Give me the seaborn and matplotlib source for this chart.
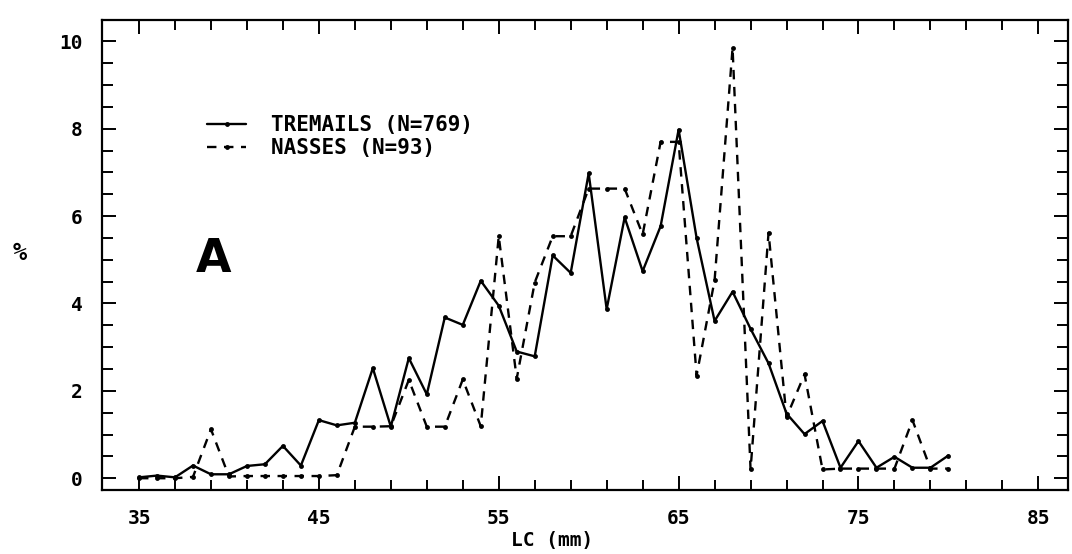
import matplotlib
matplotlib.use("Agg")
import matplotlib.pyplot as plt
from matplotlib.ticker import FixedLocator, MultipleLocator
import seaborn as sns
import pandas as pd

# ---- data ----
lc_mm = [35, 36, 37, 38, 39, 40, 41, 42, 43, 44, 45, 46, 47, 48, 49, 50,
         51, 52, 53, 54, 55, 56, 57, 58, 59, 60, 61, 62, 63, 64, 65, 66,
         67, 68, 69, 70, 71, 72, 73, 74, 75, 76, 77, 78, 79, 80]

tremails = [0.02, 0.06, 0.02, 0.29, 0.09, 0.09, 0.28, 0.32, 0.74, 0.29,
            1.33, 1.21, 1.27, 2.52, 1.18, 2.75, 1.92, 3.68, 3.51, 4.52,
            3.95, 2.90, 2.79, 5.10, 4.70, 6.98, 3.87, 5.97, 4.74, 5.77,
            7.98, 5.50, 3.60, 4.27, 3.42, 2.63, 1.48, 1.01, 1.31, 0.24,
            0.85, 0.24, 0.49, 0.24, 0.24, 0.52]

nasses = [0.00, 0.00, 0.00, 0.03, 1.12, 0.04, 0.05, 0.05, 0.05, 0.05,
          0.05, 0.07, 1.18, 1.18, 1.19, 2.25, 1.18, 1.18, 2.26, 1.19,
          5.54, 2.28, 4.48, 5.54, 5.54, 6.63, 6.63, 6.63, 5.58, 7.70,
          7.70, 2.35, 4.53, 9.85, 0.20, 5.62, 1.40, 2.38, 0.20, 0.22,
          0.22, 0.22, 0.22, 1.33, 0.22, 0.22]

label_tremails = "TREMAILS (N=769)"
label_nasses = "NASSES (N=93)"
x_ticks = [35, 45, 55, 65, 75, 85]
y_ticks = [0, 2, 4, 6, 8, 10]

df = pd.DataFrame({"LC": lc_mm + lc_mm,
                   "pct": tremails + nasses,
                   "serie": [label_tremails] * len(lc_mm) + [label_nasses] * len(lc_mm)})

sns.set_style("white")
plt.rcParams["font.family"] = ["DejaVu Sans Mono", "DejaVu Sans"]
plt.rcParams["font.weight"] = "bold"
for key in ["text.color", "axes.labelcolor", "xtick.color", "ytick.color",
            "axes.edgecolor"]:
    plt.rcParams[key] = "black"

fig = plt.figure(figsize=(10.72, 5.54), dpi=100)
ax = fig.add_axes([0.0951, 0.1155, 0.9012, 0.8484])

sns.lineplot(data=df, x="LC", y="pct", style="serie",
             style_order=[label_tremails, label_nasses],
             dashes={label_tremails: "", label_nasses: (4, 3.2)},
             markers={label_tremails: "o", label_nasses: "o"},
             markersize=3.5, markeredgewidth=0,
             color="black", linewidth=1.7, ax=ax, legend=True)

ax.set_xlim(32.94, 86.65)
ax.set_ylim(-0.27, 10.49)

ax.xaxis.set_major_locator(FixedLocator(x_ticks))
ax.xaxis.set_minor_locator(FixedLocator(list(range(35, 87, 2))))
ax.yaxis.set_major_locator(FixedLocator(y_ticks))
ax.yaxis.set_minor_locator(MultipleLocator(0.5))

for s in ax.spines.values():
    s.set_linewidth(1.6)
    s.set_color("black")

ax.tick_params(axis="both", which="both", direction="in", color="black",
               labelcolor="black",
               top=True, right=True, bottom=True, left=True, width=1.4)
ax.tick_params(axis="x", which="major", length=10, pad=14, labelsize=14)
ax.tick_params(axis="x", which="minor", length=7)
ax.tick_params(axis="y", which="major", length=10, pad=14, labelsize=14)
ax.tick_params(axis="y", which="minor", length=8)
for lab in ax.get_xticklabels() + ax.get_yticklabels():
    lab.set_fontweight("bold")

ax.set_xlabel("LC (mm)", fontsize=14, fontweight="bold", color="black")
ax.xaxis.set_label_coords(0.466, -0.088)
ax.set_ylabel("%", fontsize=17, fontweight="bold", rotation=0, color="black",
              va="center")
ax.yaxis.set_label_coords(-0.085, 0.505)

ax.text(0.115, 0.49, "A", transform=ax.transAxes, fontsize=33,
        fontweight="heavy", family="DejaVu Sans", color="black",
        ha="center", va="center")

leg = ax.legend(loc="upper left", bbox_to_anchor=(0.1, 0.815), frameon=False,
                handlelength=1.9, handletextpad=1.2, labelspacing=0.15,
                borderaxespad=0, prop={"family": "DejaVu Sans Mono",
                                       "weight": "bold", "size": 15})
for t in leg.get_texts():
    t.set_color("black")

ax.grid(False)
fig.savefig("out.png", dpi=100, facecolor="white")
